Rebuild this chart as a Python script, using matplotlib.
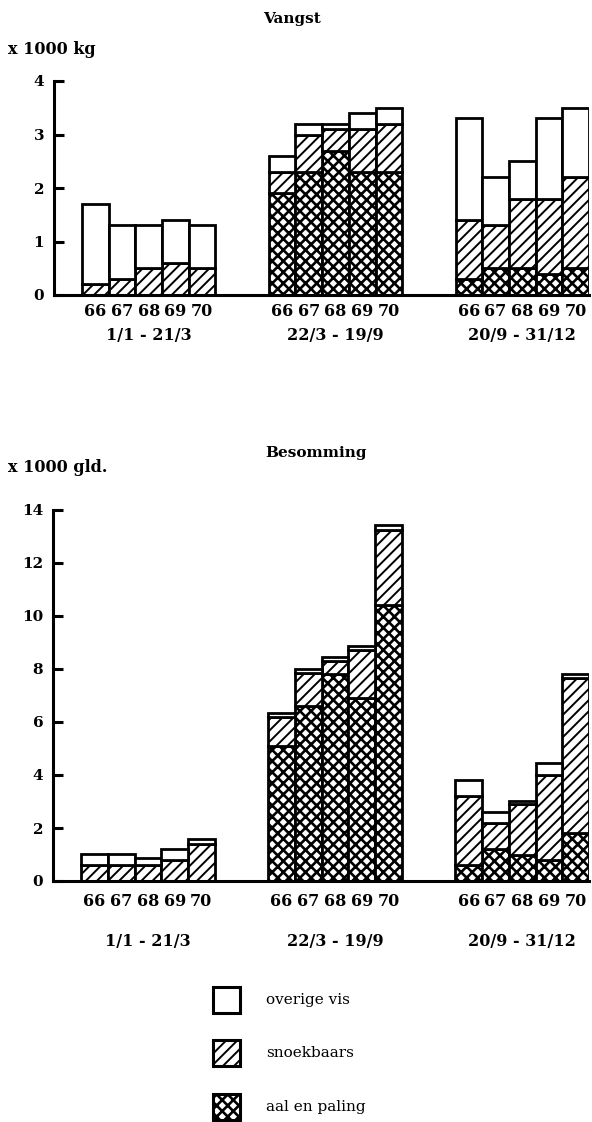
import matplotlib
matplotlib.use("Agg")
import matplotlib.pyplot as plt
import matplotlib.transforms as mtrans
from matplotlib.patches import Rectangle
import numpy as np

plt.rcParams['font.family'] = ['DejaVu Serif']
plt.rcParams['hatch.linewidth'] = 1.6

years = ["66", "67", "68", "69", "70"]
periods = ["1/1 - 21/3", "22/3 - 19/9", "20/9 - 31/12"]
series_names = ["overige vis", "snoekbaars", "aal en paling"]

# Vangst (x 1000 kg), per period: 5 years each
vangst_aal = [[0, 0, 0, 0, 0], [1.9, 2.3, 2.7, 2.3, 2.3], [0.3, 0.5, 0.5, 0.4, 0.5]]
vangst_snoek = [[0.2, 0.3, 0.5, 0.6, 0.5], [0.4, 0.7, 0.4, 0.8, 0.9], [1.1, 0.8, 1.3, 1.4, 1.7]]
vangst_overig = [[1.5, 1.0, 0.8, 0.8, 0.8], [0.3, 0.2, 0.1, 0.3, 0.3], [1.9, 0.9, 0.7, 1.5, 1.3]]

# Besomming (x 1000 gld.)
besom_aal = [[0, 0, 0, 0, 0], [5.1, 6.6, 7.8, 6.9, 10.4], [0.6, 1.2, 1.0, 0.8, 1.8]]
besom_snoek = [[0.6, 0.6, 0.6, 0.8, 1.4], [1.1, 1.25, 0.5, 1.8, 2.85], [2.6, 1.0, 1.9, 3.2, 5.85]]
besom_overig = [[0.4, 0.4, 0.25, 0.4, 0.2], [0.15, 0.15, 0.15, 0.15, 0.2], [0.6, 0.4, 0.1, 0.45, 0.15]]

W, H = 592, 1122
fig = plt.figure(figsize=(W / 100, H / 100), dpi=100)

HATCH_SNOEK = '///'
HATCH_AAL = 'xxx'
HLW_SNOEK = 1.4
HLW_AAL = 1.9


def set_hlw(patch, lw):
    if hasattr(patch, 'set_hatch_linewidth'):
        patch.set_hatch_linewidth(lw)


def draw_panel(rect_px, ymax, yticks, aal, snoek, overig, year_y, period_y):
    left, top, right, bottom = rect_px
    ax = fig.add_axes([left / W, 1 - bottom / H, (right - left) / W, (bottom - top) / H])
    group_offsets = [0, 7, 14]
    for g, off in enumerate(group_offsets):
        x = np.arange(5) + off
        a = np.array(aal[g], float)
        s = np.array(snoek[g], float)
        o = np.array(overig[g], float)
        kw = dict(width=1.0, edgecolor='black', linewidth=2.0, align='center')
        ba = ax.bar(x, a, color='white', hatch=HATCH_AAL, **kw)
        bs = ax.bar(x, s, bottom=a, color='white', hatch=HATCH_SNOEK, **kw)
        ax.bar(x, o, bottom=a + s, color='white', **kw)
        for p, v in zip(ba, a):
            set_hlw(p, HLW_AAL)
            if v == 0:
                p.set_visible(False)
        for p in bs:
            set_hlw(p, HLW_SNOEK)
    ax.set_xlim(-1.55, 18.5)
    ax.set_ylim(0, ymax)
    for sp in ['top', 'right']:
        ax.spines[sp].set_visible(False)
    ax.spines['left'].set_linewidth(2.2)
    ax.spines['bottom'].set_linewidth(2.2)
    ax.set_yticks(yticks)
    ax.set_yticklabels([str(t) for t in yticks], fontsize=11, fontweight='bold')
    ax.tick_params(axis='y', direction='in', length=7, width=2.2, pad=7)
    ax.set_xticks([])
    tr = mtrans.blended_transform_factory(ax.transData, fig.transFigure)
    for g, off in enumerate(group_offsets):
        for i, yl in enumerate(years):
            ax.text(off + i, 1 - year_y / H, yl, transform=tr, ha='center', va='center',
                    fontsize=11.5, fontweight='bold')
        ax.text(off + 2, 1 - period_y / H, periods[g], transform=tr, ha='center',
                va='center', fontsize=11.5, fontweight='bold')
    return ax


ax1 = draw_panel((54, 81, 589, 295), 4, [0, 1, 2, 3, 4],
                 vangst_aal, vangst_snoek, vangst_overig, 312, 336)
ax2 = draw_panel((53, 510, 589, 881), 14, [0, 2, 4, 6, 8, 10, 12, 14],
                 besom_aal, besom_snoek, besom_overig, 901, 941)

fig.text(292 / W, 1 - 19 / H, "Vangst", ha='center', va='center', fontsize=11, fontweight='bold')
fig.text(8 / W, 1 - 49 / H, "x 1000 kg", ha='left', va='center', fontsize=11.5, fontweight='bold')
fig.text(316 / W, 1 - 453 / H, "Besomming", ha='center', va='center', fontsize=11, fontweight='bold')
fig.text(8 / W, 1 - 468 / H, "x 1000 gld.", ha='left', va='center', fontsize=11.5, fontweight='bold')

# legend
leg_hatches = [None, HATCH_SNOEK, HATCH_AAL]
leg_y = [1000, 1053, 1107]
for name, hh, yc in zip(series_names, leg_hatches, leg_y):
    r = Rectangle((213 / W, 1 - (yc + 13) / H), 27 / W, 26 / H, transform=fig.transFigure,
                  facecolor='white', edgecolor='black', linewidth=2.2, hatch=hh)
    if hh == HATCH_AAL:
        set_hlw(r, HLW_AAL)
    elif hh == HATCH_SNOEK:
        set_hlw(r, HLW_SNOEK)
    fig.add_artist(r)
    fig.text(266 / W, 1 - yc / H, name, ha='left', va='center', fontsize=11)

fig.savefig("out.png", dpi=100)
